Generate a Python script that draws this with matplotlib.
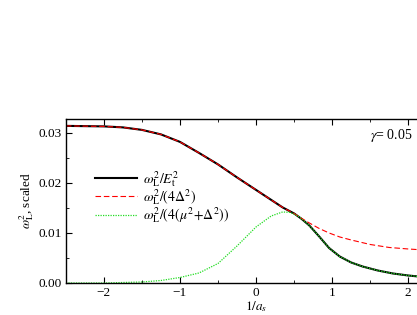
import matplotlib
matplotlib.use("Agg")
import matplotlib.pyplot as plt
from matplotlib.ticker import MultipleLocator

plt.rcParams['font.family'] = ['Liberation Serif', 'DejaVu Serif']
plt.rcParams['mathtext.fontset'] = 'stix'

# black: omega_L^2 / E_t^2
x_e = [-2.5, -2.0, -1.75, -1.5, -1.25, -1.0, -0.75, -0.5, -0.25, 0.0, 0.2, 0.35, 0.5,
       0.6, 0.7, 0.83, 0.96, 1.1, 1.25, 1.4, 1.6, 1.8, 2.0, 2.2, 2.5]
y_e = [0.0314, 0.0313, 0.0311, 0.0306, 0.0297, 0.0282, 0.0260, 0.0237, 0.0211, 0.0186,
       0.0166, 0.0151, 0.0139, 0.0128, 0.0115, 0.0093, 0.0070, 0.0053, 0.0041, 0.0033,
       0.0025, 0.0019, 0.0015, 0.0012, 0.0009]

# red dashed: omega_L^2 / (4 Delta^2)
x_d = [-2.5, -2.0, -1.75, -1.5, -1.25, -1.0, -0.75, -0.5, -0.25, 0.0, 0.2, 0.35, 0.5,
       0.6, 0.7, 0.83, 0.96, 1.1, 1.25, 1.5, 1.75, 2.0, 2.2, 2.5]
y_d = [0.0314, 0.0313, 0.0311, 0.0306, 0.0297, 0.0282, 0.0260, 0.0237, 0.0211, 0.0186,
       0.0166, 0.0151, 0.0139, 0.0129, 0.0120, 0.0109, 0.0100, 0.0092, 0.0086, 0.0077,
       0.0071, 0.0068, 0.0066, 0.0063]

# green dotted: omega_L^2 / (4(mu^2 + Delta^2))
x_g = [-2.5, -2.0, -1.75, -1.5, -1.25, -1.0, -0.75, -0.5, -0.25, 0.0, 0.2, 0.35, 0.45,
       0.55, 0.6, 0.7, 0.83, 0.96, 1.1, 1.25, 1.4, 1.6, 1.8, 2.0, 2.2, 2.5]
y_g = [0.0000, 0.0000, 0.0001, 0.0002, 0.0005, 0.0011, 0.0020, 0.0039, 0.0074, 0.0112,
       0.0134, 0.0142, 0.0141, 0.0134, 0.0128, 0.0115, 0.0093, 0.0070, 0.0053, 0.0041,
       0.0033, 0.0025, 0.0019, 0.0015, 0.0012, 0.0009]

fig = plt.figure(figsize=(4.17, 3.15), dpi=100)
ax = fig.add_axes([0.158, 0.1016, 0.912, 0.521])

ax.plot(x_e, y_e, color='black', lw=1.5, label=r'$\omega_{\rm L}^2/E_{\rm t}^2$')
ax.plot(x_d, y_d, color='red', lw=0.8, ls=(0, (5, 2.5)), label=r'$\omega_{\rm L}^2/(4\Delta^2)$')
ax.plot(x_g, y_g, color='#22dd22', lw=0.9, ls=(0, (1, 1)),
        label=r'$\omega_{\rm L}^2/(4(\mu^2\!+\!\Delta^2))$')

ax.set_xlim(-2.5, 2.5)
ax.set_ylim(0, 0.0328)
ax.xaxis.set_major_locator(MultipleLocator(1))
ax.xaxis.set_minor_locator(MultipleLocator(0.5))
ax.yaxis.set_major_locator(MultipleLocator(0.01))
ax.yaxis.set_minor_locator(MultipleLocator(0.005))
ax.yaxis.set_major_formatter(plt.FuncFormatter(lambda v, p: f"{v:.2f}"))
ax.tick_params(which='both', direction='in', top=True, right=True, labelsize=9.5)
ax.tick_params(which='major', length=4, pad=3)
ax.tick_params(which='minor', length=2)
for s in ax.spines.values():
    s.set_linewidth(1.0)

ax.set_xlabel(r'$1/a_s$', fontsize=9.5)
ax.xaxis.set_label_coords(0.5, -0.1)
ax.set_ylabel(r'$\omega_{\rm L}^2$, scaled', fontsize=9.5, labelpad=2)

ax.legend(loc='upper left', bbox_to_anchor=(0.045, 0.77), frameon=False, fontsize=10,
          handlelength=3.0, handletextpad=0.4, labelspacing=-0.12)

ax.text(0.80, 0.875, r'$\gamma$= 0.05', transform=ax.transAxes, fontsize=10)

fig.savefig("out.png", dpi=100)
